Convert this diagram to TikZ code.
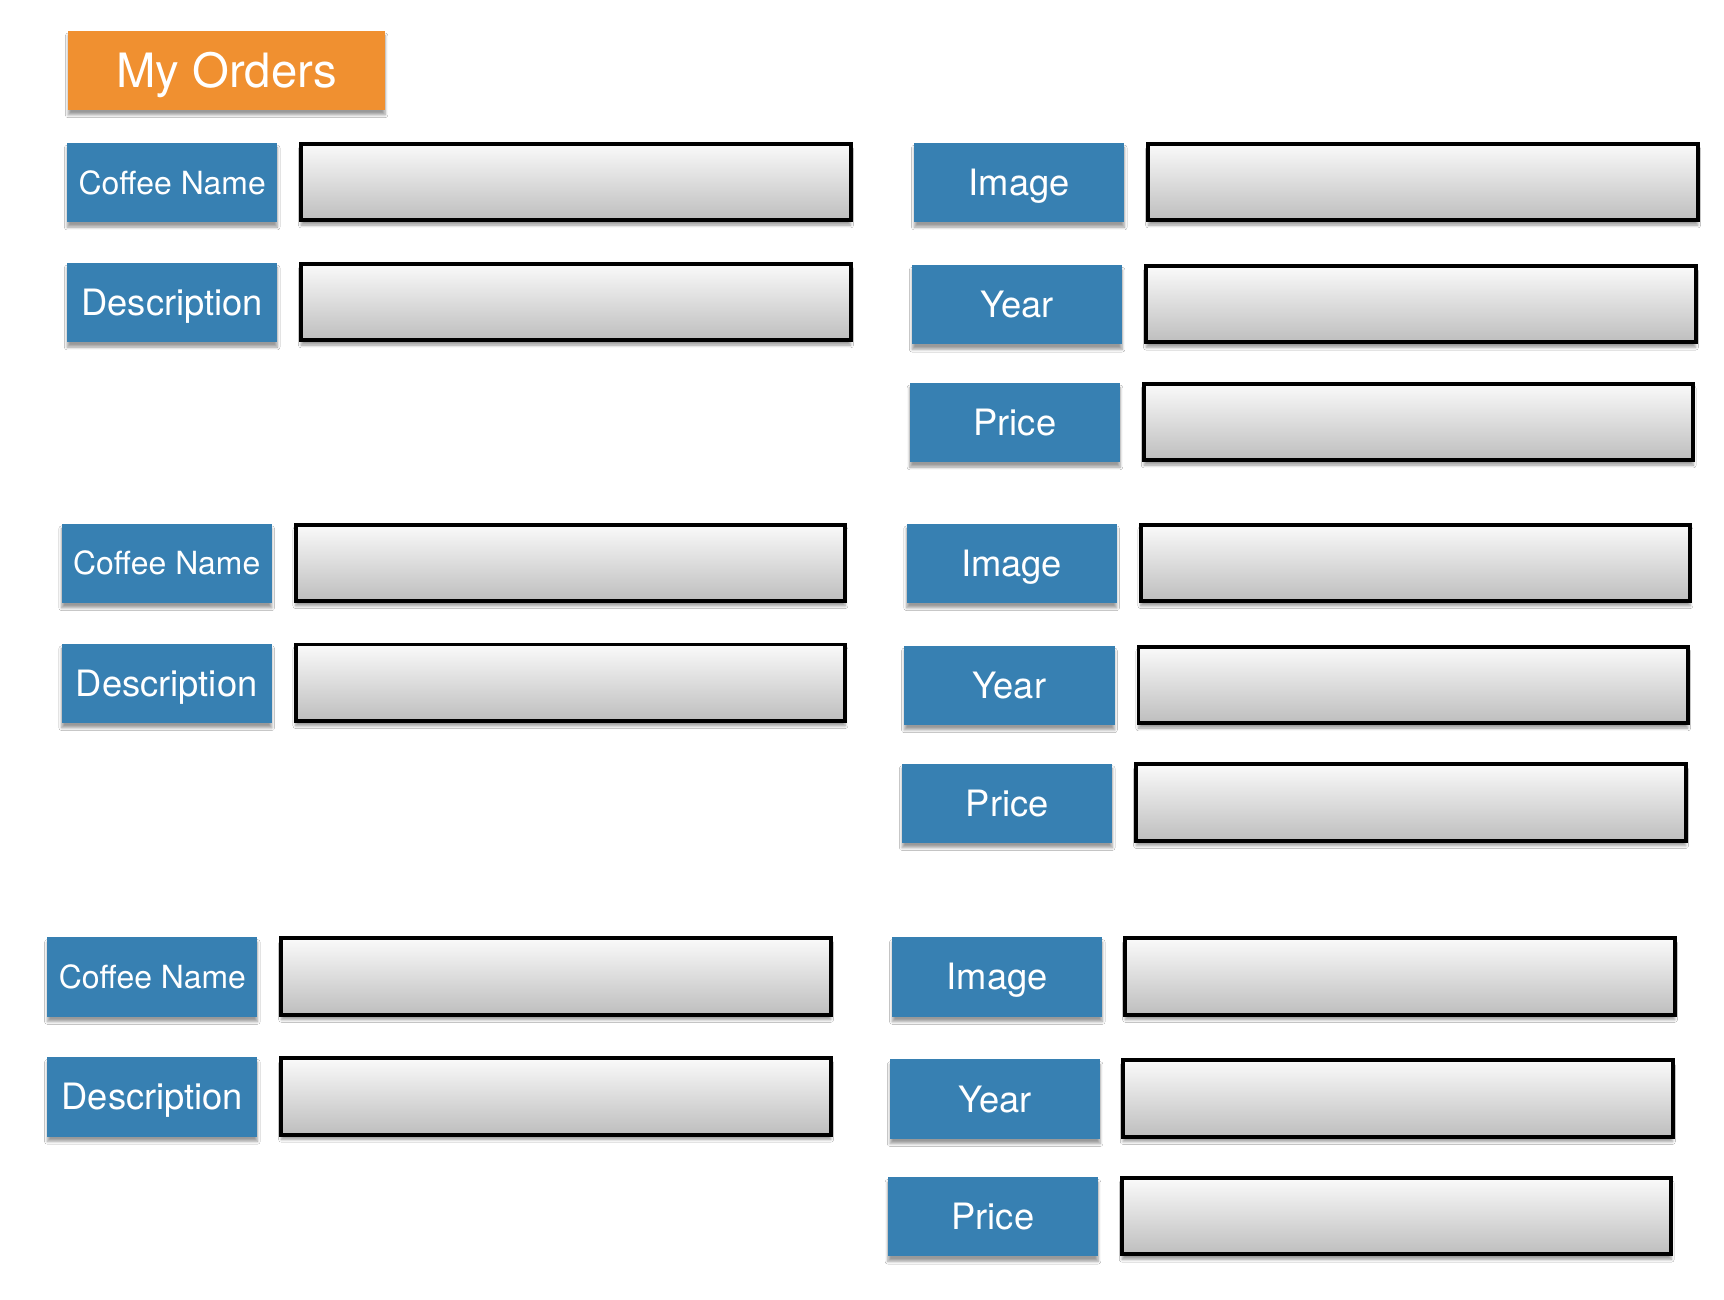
\documentclass[tikz,border=0pt]{standalone}
\usepackage{fontspec}
\setmainfont{TeX Gyre Heros}
\usetikzlibrary{shadows.blur}
\definecolor{lblblue}{HTML}{3780B2}
\definecolor{ordorange}{HTML}{F09030}
\definecolor{fieldtop}{HTML}{FAFAFA}
\definecolor{fieldbot}{HTML}{BEBEBE}
\begin{document}
\begin{tikzpicture}[x=1pt,y=-1pt,
  shade/.style={blur shadow={shadow xshift=0pt,shadow yshift=-4.5pt,shadow blur radius=2.5pt,shadow blur steps=6,shadow opacity=40}},
  lbl/.style={anchor=north west,fill=lblblue,text=white,minimum width=191pt,minimum height=72pt,
    inner sep=0pt,outer sep=0pt,font=\fontsize{33}{33}\selectfont,text height=23.5pt,text depth=0pt,shade},
  lblsmall/.style={lbl,font=\fontsize{29}{29}\selectfont,text height=21pt},
  title/.style={anchor=north west,fill=ordorange,text=white,minimum width=288pt,minimum height=72pt,
    inner sep=0pt,outer sep=0pt,font=\fontsize{43}{43}\selectfont,text height=31pt,text depth=0pt,shade},
  field/.style={anchor=north west,draw=black,line width=3.6pt,top color=fieldtop,bottom color=fieldbot,
    minimum width=499.4pt,minimum height=69.4pt,inner sep=0pt,shade}]
\useasboundingbox[fill=white] (0,0) rectangle (1567,1181.6);
\node[title] (title) at (62,28) {My Orders};
% group 1
\node[lblsmall] (cn1) at (61,130) {Coffee Name};
\node[field] (cnf1) at (272,129) {};
\node[lbl] (de1) at (61,239) {Description};
\node[field] (def1) at (272,238) {};
\node[lbl] (im1) at (831,130) {Image};
\node[field] (imf1) at (1042,129) {};
\node[lbl] (ye1) at (829,241) {Year};
\node[field] (yef1) at (1040,240) {};
\node[lbl] (pr1) at (827,348) {Price};
\node[field] (prf1) at (1038,347) {};
% group 2
\node[lblsmall] (cn2) at (56,476) {Coffee Name};
\node[field] (cnf2) at (267,475) {};
\node[lbl] (de2) at (56,585) {Description};
\node[field] (def2) at (267,584) {};
\node[lbl] (im2) at (824,476) {Image};
\node[field] (imf2) at (1035,475) {};
\node[lbl] (ye2) at (822,587) {Year};
\node[field] (yef2) at (1033,586) {};
\node[lbl] (pr2) at (820,694) {Price};
\node[field] (prf2) at (1031,693) {};
% group 3
\node[lblsmall] (cn3) at (43,852) {Coffee Name};
\node[field] (cnf3) at (254,851) {};
\node[lbl] (de3) at (43,961) {Description};
\node[field] (def3) at (254,960) {};
\node[lbl] (im3) at (811,852) {Image};
\node[field] (imf3) at (1021,851) {};
\node[lbl] (ye3) at (809,963) {Year};
\node[field] (yef3) at (1019,962) {};
\node[lbl] (pr3) at (807,1070) {Price};
\node[field] (prf3) at (1018,1069) {};
\end{tikzpicture}
\end{document}
